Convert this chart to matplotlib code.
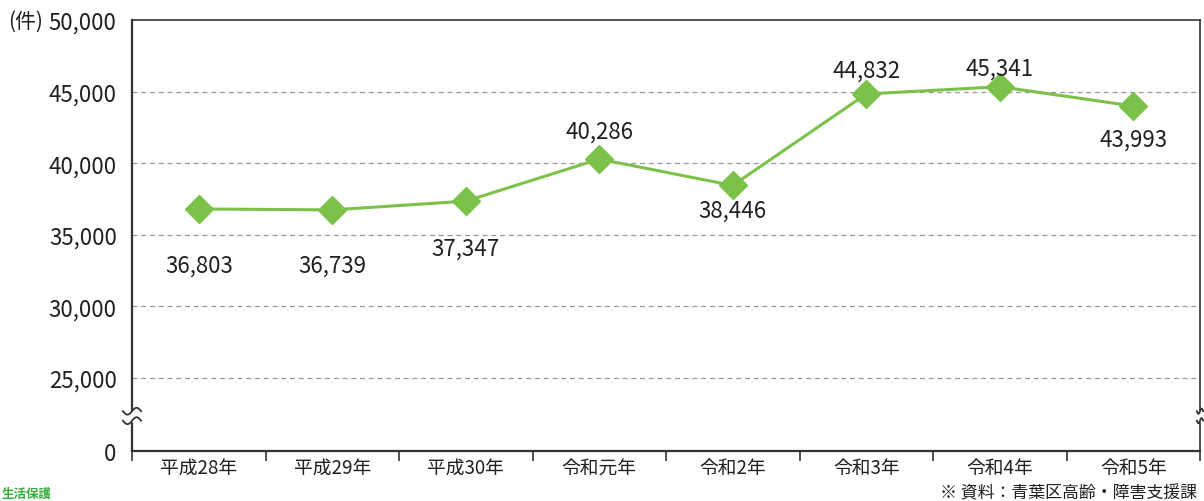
import numpy as np
import matplotlib
matplotlib.use("Agg")
import matplotlib.pyplot as plt
from matplotlib.ticker import FixedLocator, FuncFormatter

plt.rcParams['font.family'] = ['Noto Sans CJK JP', 'DejaVu Sans']

categories = ["平成28年", "平成29年", "平成30年", "令和元年", "令和2年", "令和3年", "令和4年", "令和5年"]
values = [36803, 36739, 37347, 40286, 38446, 44832, 45341, 43993]
yticks = [0, 25000, 30000, 35000, 40000, 45000, 50000]

# label placement (pixels relative to the point)
label_dy = [-56, -55, -47, 28, -25, 24, 19, -33]

GREEN = "#7cc24a"
TXT = "#231f20"
BREAK_LO = 25000
GAP = 5100.0

def fwd(y):
    y = np.asarray(y, dtype=float)
    return np.where(y >= BREAK_LO, y - BREAK_LO + GAP, y * GAP / BREAK_LO)

def inv(v):
    v = np.asarray(v, dtype=float)
    return np.where(v >= GAP, v - GAP + BREAK_LO, v * BREAK_LO / GAP)

fig = plt.figure(figsize=(12.04, 5.02), dpi=100)
ax = fig.add_axes([132/1204, 1-452/502, (1200-132)/1204, (452-21)/502])
ax.set_yscale('function', functions=(fwd, inv))
ax.set_ylim(0, 50000)
ax.set_xlim(-0.5, len(categories) - 0.5)

x = np.arange(len(categories))
ax.plot(x, values, color=GREEN, lw=2.2, marker='D', ms=14, mec=GREEN, mfc=GREEN, zorder=3)

for xi, v, dy in zip(x, values, label_dy):
    ax.annotate(f"{v:,}", (xi, v), xytext=(0, dy), textcoords='offset pixels',
                ha='center', va='center', fontsize=16, color=TXT)

# grid
for gy in [25000, 30000, 35000, 40000, 45000]:
    ax.axhline(gy, color='#999999', lw=0.9, ls=(0, (4, 3)), zorder=1)

ax.yaxis.set_major_locator(FixedLocator(yticks))
ax.yaxis.set_major_formatter(FuncFormatter(lambda v, p: f"{int(round(v)):,}"))
ax.yaxis.set_minor_locator(FixedLocator([]))
ax.tick_params(axis='y', length=0, labelsize=16, pad=11, labelcolor=TXT)

ax.set_xticks(x)
ax.set_xticklabels(categories, fontsize=13.5, color=TXT)
ax.set_xticks(np.arange(-0.5, len(categories), 1.0), minor=True)
ax.tick_params(axis='x', which='major', length=0, pad=4)
ax.tick_params(axis='x', which='minor', length=7, width=1.2, color='#333333', direction='out')

for s in ax.spines.values():
    s.set_color('#333333')
    s.set_linewidth(1.2)
ax.spines['bottom'].set_linewidth(1.6)
ax.spines['left'].set_linewidth(1.6)

# break marks
brk = fwd(12000) / fwd(50000)
t = np.linspace(-1, 1, 40)
ax.add_patch(plt.Rectangle((-0.004, brk - 0.012), 0.008, 0.024, transform=ax.transAxes,
                           color='white', clip_on=False, zorder=4))
for dy in (-0.011, 0.011):
    ax.plot(t * 0.0085, brk + dy + 0.008 * np.sin(t * np.pi), transform=ax.transAxes,
            color='#333333', lw=1.3, clip_on=False, zorder=5)
ax.add_patch(plt.Rectangle((0.996, brk - 0.012), 0.008, 0.024, transform=ax.transAxes,
                           color='white', clip_on=False, zorder=4))
for dy in (-0.011, 0.011):
    ax.plot(1.0 + t * 0.003, brk + dy + 0.006 * np.sin(t * np.pi), transform=ax.transAxes,
            color='#333333', lw=1.3, clip_on=False, zorder=5)

fig.text(8/1204, 1-22/502, "(件)", fontsize=15, ha='left', va='center', color=TXT)
fig.text(1197/1204, 1-493/502, "※ 資料：青葉区高齢・障害支援課", fontsize=12.2, ha='right', va='center', color=TXT)
fig.text(2/1204, 1-494/502, "生活保護", fontsize=9, ha='left', va='center', color='#3aac3a', fontweight='bold')

fig.savefig("out.png", dpi=100)
